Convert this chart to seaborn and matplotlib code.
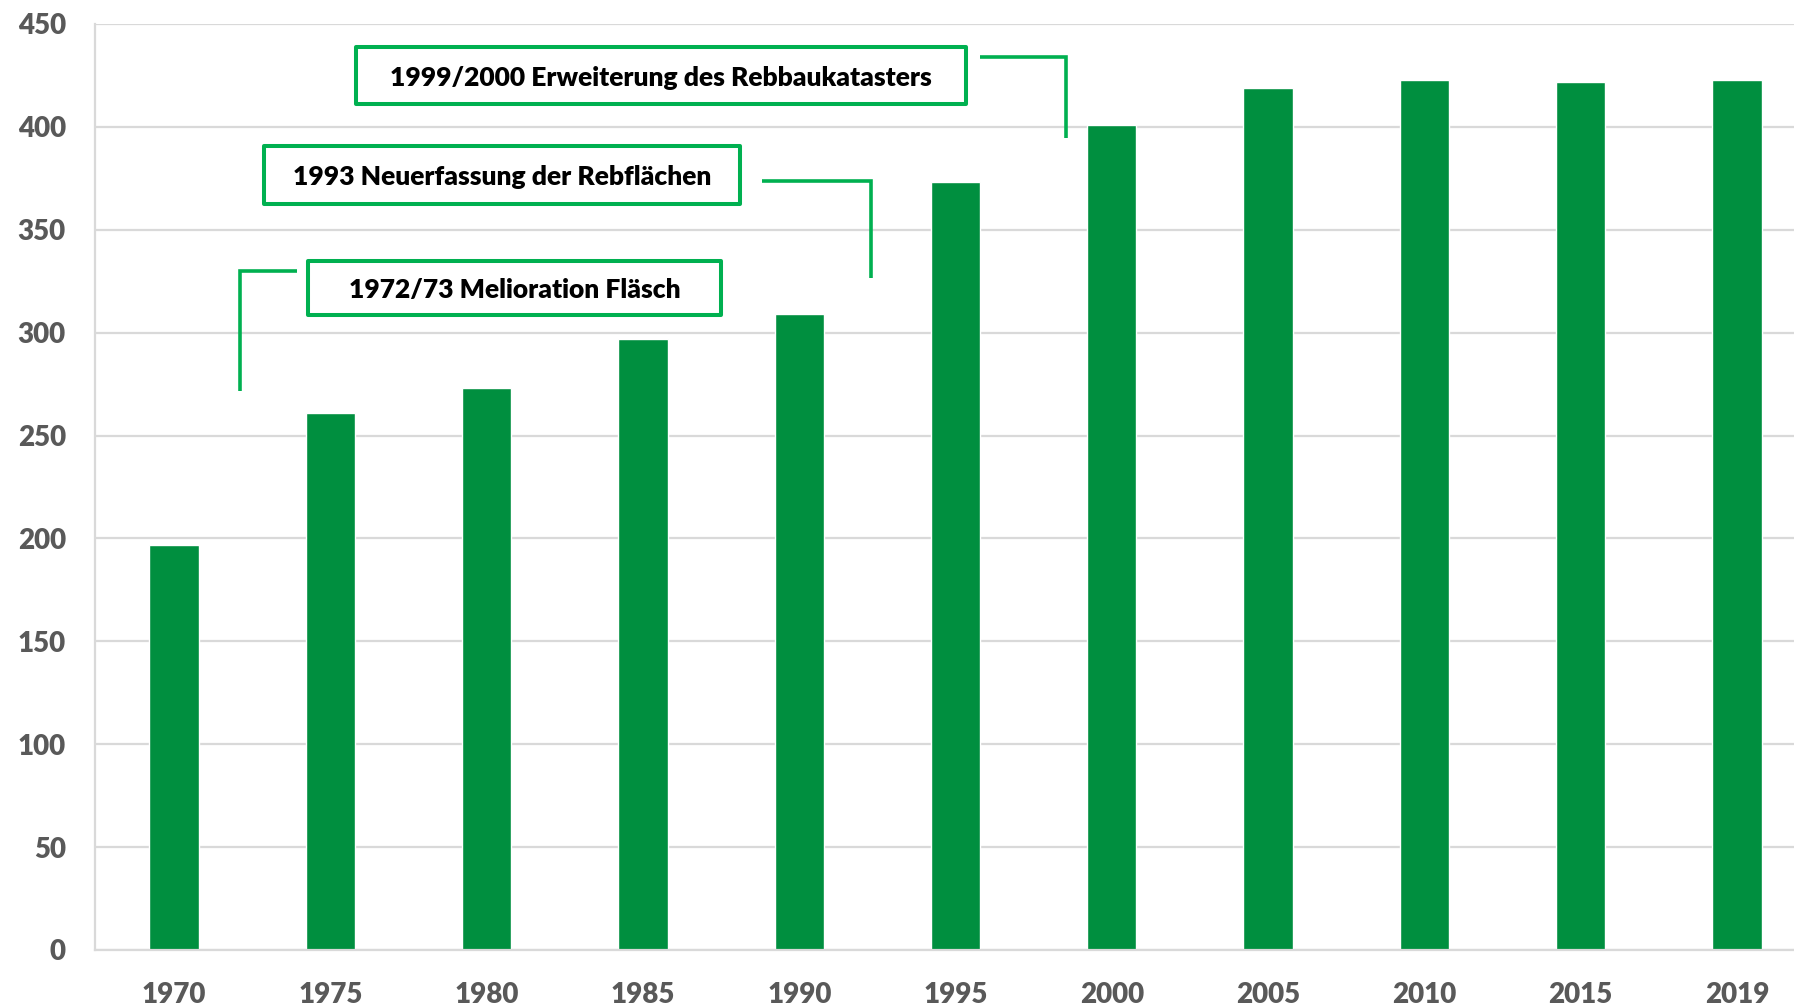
import matplotlib
matplotlib.use("Agg")
import matplotlib.pyplot as plt
from matplotlib.patches import Rectangle
import seaborn as sns
import pandas as pd

# Rebfläche (ha) per year
years = ["1970", "1975", "1980", "1985", "1990", "1995", "2000", "2005", "2010", "2015", "2019"]
area = [197, 261, 273, 297, 309, 373, 401, 419, 423, 422, 423]
y_ticks = [0, 50, 100, 150, 200, 250, 300, 350, 400, 450]

notes = [
    "1999/2000 Erweiterung des Rebbaukatasters",
    "1993 Neuerfassung der Rebflächen",
    "1972/73 Melioration Fläsch",
]

bar_green = "#008F3F"
box_green = "#00B050"
grid_grey = "#D9D9D9"
label_grey = "#595959"

sns.set_style("white")
plt.rcParams["font.family"] = ["Lato", "DejaVu Sans"]
plt.rcParams["font.weight"] = "heavy"

df = pd.DataFrame({"year": years, "area": area})

fig = plt.figure(figsize=(17.94, 10.06), dpi=100)
ax = fig.add_axes([95 / 1794, 56 / 1006, 1699 / 1794, 926 / 1006])

ax.set_axisbelow(True)
ax.yaxis.grid(True, color=grid_grey, linewidth=1.6)
sns.barplot(data=df, x="year", y="area", color=bar_green, width=0.315,
            saturation=1, ax=ax, zorder=2)

ax.set_ylim(0, 450)
ax.set_xlim(-0.506, 10.365)
ax.set_yticks(y_ticks)
ax.set_xlabel("")
ax.set_ylabel("")
ax.tick_params(axis="both", length=0, labelsize=20, labelcolor=label_grey)
ax.tick_params(axis="y", pad=21)
ax.tick_params(axis="x", pad=23)
for lbl in ax.get_xticklabels() + ax.get_yticklabels():
    lbl.set_fontweight("heavy")

for side in ["top", "right"]:
    ax.spines[side].set_visible(False)
for side in ["left", "bottom"]:
    ax.spines[side].set_color(grid_grey)
    ax.spines[side].set_linewidth(1.6)

# annotation boxes: (x0, x1, y0, y1) in data units, connector path
boxes = [
    ((1.164, 5.067, 411.1, 438.8), [(5.157, 433.9), (5.707, 433.9), (5.707, 394.6)]),
    ((0.576, 3.621, 362.5, 390.7), [(3.762, 373.7), (4.459, 373.7), (4.459, 326.5)]),
    ((0.857, 3.500, 308.6, 334.8), [(0.787, 329.9), (0.422, 329.9), (0.422, 271.6)]),
]
for text, ((x0, x1, y0, y1), path) in zip(notes, boxes):
    ax.add_patch(Rectangle((x0, y0), x1 - x0, y1 - y0, facecolor="white",
                           edgecolor=box_green, linewidth=2.9, zorder=5,
                           joinstyle="round", clip_on=False))
    ax.text((x0 + x1) / 2, (y0 + y1) / 2, text, ha="center", va="center_baseline",
            fontsize=19, fontweight="heavy", color="black", zorder=6)
    xs, ys = zip(*path)
    ax.plot(xs, ys, color=box_green, linewidth=2.6, solid_joinstyle="miter",
            solid_capstyle="butt", zorder=5, clip_on=False)

fig.savefig("out.png", dpi=100)
plt.close(fig)
